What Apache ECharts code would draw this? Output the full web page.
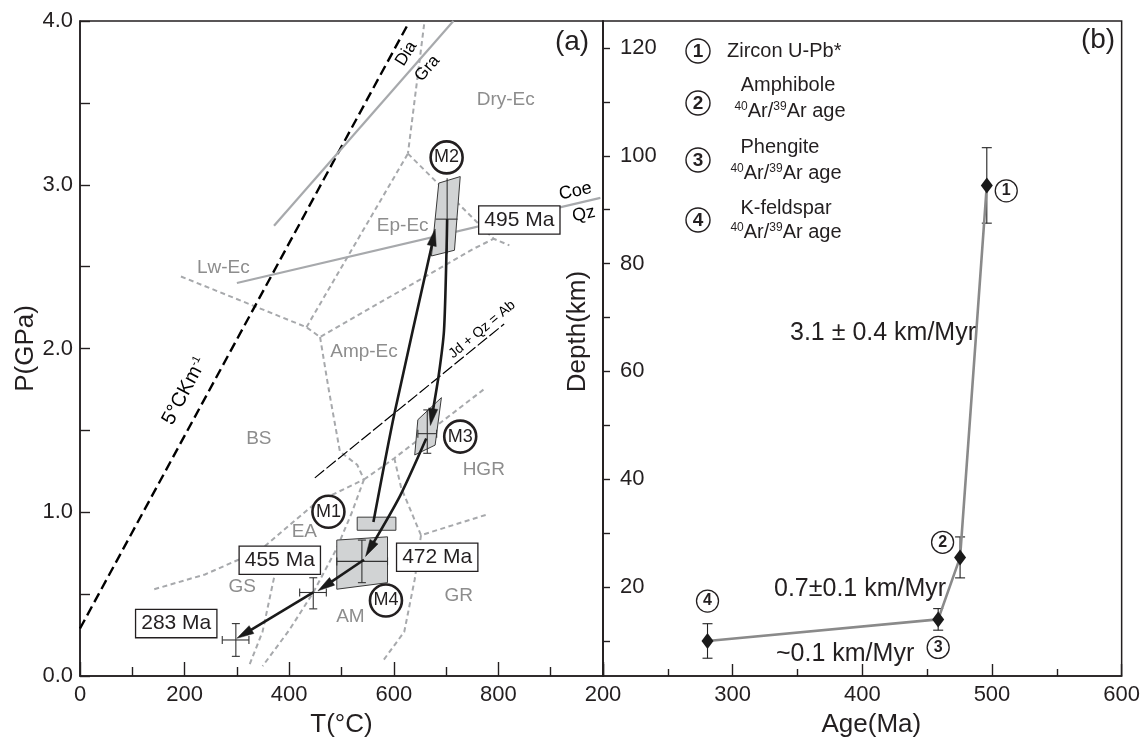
<!DOCTYPE html>
<html><head><meta charset="utf-8">
<script src="https://cdn.jsdelivr.net/npm/echarts@6/dist/echarts.min.js"></script>
<style>html,body{margin:0;padding:0;background:#fff}#c{width:1143px;height:743px}</style>
</head><body><div id="c"></div><script>
// ---------- Panel (b): Age vs Depth ----------
const ages = [280.6, 458.5, 475.4, 496];
const depths = [10, 14, 25.5, 94.5];
const depthErr = [3.2, 2, 3.8, 7];
const methodTags = ['4', '3', '2', '1'];
const tagAges = [280.6, 458.5, 461.9, 511];
const tagDepths = [17.4, 8.8, 28.3, 93.5];
const ageTicksB = [200, 300, 400, 500, 600];
const depthLabelsB = [20, 40, 60, 80, 100, 120];
const depthTicksB = [10, 20, 30, 40, 50, 60, 70, 80, 90, 100, 110, 120];
const legendNames = ['Zircon U-Pb*', 'Amphibole', 'Phengite', 'K-feldspar'];
const rateTexts = ['3.1 ± 0.4 km/Myr', '0.7±0.1 km/Myr', '~0.1 km/Myr'];

// ---------- Panel (a): P-T diagram ----------
const tLabelsA = [0, 200, 400, 600, 800];
const geotherm = [[0, 0.29], [627, 3.98]];
const graDia = [[371, 2.75], [714, 4.0]];
const coeQz = [[300, 2.40], [995, 2.92]];
const jdQzAb = [[449, 1.21], [811, 2.15]];
const facies = [
  [[658, 3.98], [627, 3.19]],
  [[627, 3.19], [791, 2.67], [821, 2.63]],
  [[433, 2.13], [627, 3.19]],
  [[193, 2.44], [433, 2.13], [459, 2.07], [753, 2.61], [791, 2.67]],
  [[459, 2.07], [475, 1.76], [497, 1.37], [530, 1.29], [543, 1.20]],
  [[142, 0.53], [239, 0.62], [303, 0.71], [349, 0.78], [400, 0.92], [452, 1.06], [543, 1.20]],
  [[543, 1.20], [601, 1.33], [776, 1.76]],
  [[601, 1.33], [614, 1.15], [652, 0.86], [782, 0.99]],
  [[652, 0.86], [640, 0.59], [620, 0.27], [581, 0.10]],
  [[543, 1.20], [520, 1.00], [491, 0.78], [446, 0.51], [400, 0.28], [349, 0.06]],
  [[371, 0.60], [349, 0.27], [323, 0.06]]
];
const boxes = [
  [[686, 3.01], [727, 3.05], [716, 2.60], [672, 2.565]],
  [[530, 0.89], [604, 0.89], [604, 0.97], [530, 0.97]],
  [[491, 0.83], [588, 0.85], [588, 0.57], [491, 0.53]],
  [[646, 1.565], [691, 1.70], [679, 1.41], [640, 1.35]]
];
const crossT = [702, 664, 539, 446, 298];
const crossP = [2.79, 1.48, 0.70, 0.51, 0.22];
const crossTRange = [[680, 722], [646, 682], [491, 588], [420, 471], [272, 323]];
const crossPRange = [[2.58, 3.04], [1.36, 1.625], [0.57, 0.83], [0.41, 0.60], [0.12, 0.32]];
const crossCaps = [false, true, true, true, true];
const ptArrows = [
  [[561, 0.94], [601, 1.60], [672, 2.62], [679, 2.73]],
  [[702, 2.79], [701, 2.62], [696, 2.11], [686, 1.84], [670, 1.53]],
  [[662, 1.45], [612, 1.10], [546, 0.73]],
  [[543, 0.71], [455, 0.52]],
  [[446, 0.51], [300, 0.23]]
];
const regionNames = ['Dry-Ec', 'Ep-Ec', 'Lw-Ec', 'Amp-Ec', 'BS', 'EA', 'GS', 'AM', 'GR', 'HGR'];
const regionT = [814, 617, 274, 543, 342, 429, 310, 517, 724, 772];
const regionP = [3.52, 2.75, 2.49, 1.98, 1.45, 0.88, 0.543, 0.359, 0.49, 1.258];
const ageBoxLabels = ['495 Ma', '455 Ma', '472 Ma', '283 Ma'];
const ageBoxT = [840, 382, 683, 184];
const ageBoxP = [2.785, 0.707, 0.725, 0.32];
const stageNames = ['M1', 'M2', 'M3', 'M4'];
const stageT = [475, 701, 727, 585];
const stageP = [1.003, 3.167, 1.462, 0.461];
const lineLabels = ['Dia', 'Gra', 'Coe', 'Qz', 'Jd + Qz = Ab', '5°CKm{s|-1}'];
const lineLabelT = [624, 664, 947, 963, 769, 200];
const lineLabelP = [3.80, 3.71, 2.96, 2.82, 2.116, 1.74];
const lineLabelRot = [58, 49, 12, 12, 40, 62];
const lineLabelSize = [17, 17, 18, 18, 14, 20];

// ---------- Styling ----------
const FONT = '"Liberation Sans", Arial, Helvetica, sans-serif';
const INK = '#231f20';
const GRAY = '#a7a9ac';
const GRAYTXT = '#8d8d8d';

const chart = echarts.init(document.getElementById('c'));

function axisCommon() {
  return {
    axisLine: {show: true, onZero: false, lineStyle: {color: INK, width: 1.5}},
    splitLine: {show: false}, minorSplitLine: {show: false}
  };
}

const series = [];
series.push({type: 'line', xAxisIndex: 0, yAxisIndex: 0, data: geotherm, symbol: 'none',
  lineStyle: {color: '#000', width: 2.4, type: [10, 5]}, z: 2, silent: true});
series.push({type: 'line', xAxisIndex: 0, yAxisIndex: 0, data: graDia, symbol: 'none',
  lineStyle: {color: GRAY, width: 2.2}, z: 2, silent: true});
series.push({type: 'line', xAxisIndex: 0, yAxisIndex: 0, data: coeQz, symbol: 'none',
  lineStyle: {color: GRAY, width: 2.2}, z: 2, silent: true});
series.push({type: 'line', xAxisIndex: 0, yAxisIndex: 0, data: jdQzAb, symbol: 'none',
  lineStyle: {color: '#000', width: 1.2, type: [12, 3]}, z: 2, silent: true});
facies.forEach(f => series.push({type: 'line', xAxisIndex: 0, yAxisIndex: 0, data: f, symbol: 'none',
  lineStyle: {color: GRAY, width: 2, type: [5, 3.5]}, z: 1, silent: true}));
// boxes
series.push({type: 'custom', xAxisIndex: 0, yAxisIndex: 0, z: 3, silent: true,
  data: boxes.map((b, i) => [b[0][0], b[0][1], i]),
  renderItem: (params, api) => {
    const b = boxes[params.dataIndex];
    return {type: 'polygon', shape: {points: b.map(p => api.coord(p))},
      style: {fill: '#d1d3d4', stroke: '#3a3a3a', lineWidth: 1}};
  }});
// error crosses
series.push({type: 'custom', xAxisIndex: 0, yAxisIndex: 0, z: 4, silent: true,
  data: crossT.map((t, i) => [t, crossP[i], i]),
  renderItem: (params, api) => {
    const i = params.dataIndex;
    const l = api.coord([crossTRange[i][0], crossP[i]]);
    const r = api.coord([crossTRange[i][1], crossP[i]]);
    const b = api.coord([crossT[i], crossPRange[i][0]]);
    const t = api.coord([crossT[i], crossPRange[i][1]]);
    const st = {stroke: '#333', lineWidth: 1.1};
    const ch = [
      {type: 'line', shape: {x1: l[0], y1: l[1], x2: r[0], y2: r[1]}, style: st},
      {type: 'line', shape: {x1: b[0], y1: b[1], x2: t[0], y2: t[1]}, style: st}
    ];
    if (crossCaps[i]) {
      const c = 4;
      ch.push({type: 'line', shape: {x1: l[0], y1: l[1] - c, x2: l[0], y2: l[1] + c}, style: st});
      ch.push({type: 'line', shape: {x1: r[0], y1: r[1] - c, x2: r[0], y2: r[1] + c}, style: st});
      ch.push({type: 'line', shape: {x1: b[0] - c, y1: b[1], x2: b[0] + c, y2: b[1]}, style: st});
      ch.push({type: 'line', shape: {x1: t[0] - c, y1: t[1], x2: t[0] + c, y2: t[1]}, style: st});
    }
    return {type: 'group', children: ch};
  }});
// P-T path arrows
series.push({type: 'custom', xAxisIndex: 0, yAxisIndex: 0, z: 5, silent: true,
  data: ptArrows.map((p, i) => [p[0][0], p[0][1], i]),
  renderItem: (params, api) => {
    const pts = ptArrows[params.dataIndex].map(p => api.coord(p));
    const n = pts.length;
    const tip = pts[n - 1], prev = pts[n - 2];
    const dx = tip[0] - prev[0], dy = tip[1] - prev[1];
    const len = Math.hypot(dx, dy) || 1;
    const ux = dx / len, uy = dy / len;
    const L = 17, W = 4.6;
    const base = [tip[0] - ux * L, tip[1] - uy * L];
    const left = [base[0] - uy * W, base[1] + ux * W];
    const right = [base[0] + uy * W, base[1] - ux * W];
    const linePts = pts.slice(0, n - 1).concat([[tip[0] - ux * L * 0.6, tip[1] - uy * L * 0.6]]);
    return {type: 'group', children: [
      {type: 'polyline', shape: {points: linePts, smooth: n > 2 ? 0.25 : 0}, style: {stroke: '#1a1a1a', lineWidth: 2.6, fill: null}},
      {type: 'polygon', shape: {points: [tip, left, right]}, style: {fill: '#1a1a1a', stroke: '#1a1a1a', lineWidth: 0.5}}
    ]};
  }});
// region labels
series.push({type: 'scatter', xAxisIndex: 0, yAxisIndex: 0, z: 6, symbolSize: 1, silent: true,
  itemStyle: {color: 'transparent', opacity: 1},
  data: regionNames.map((n, i) => ({value: [regionT[i], regionP[i]], name: n})),
  label: {show: true, position: 'inside', formatter: '{b}', color: GRAYTXT, fontSize: 19, fontFamily: FONT, opacity: 1}});
// age boxes
series.push({type: 'scatter', xAxisIndex: 0, yAxisIndex: 0, z: 7, symbolSize: 1, silent: true,
  itemStyle: {color: 'transparent', opacity: 1},
  data: ageBoxLabels.map((n, i) => ({value: [ageBoxT[i], ageBoxP[i]], name: n})),
  label: {show: true, position: 'inside', formatter: '{b}', color: INK, fontSize: 21, fontFamily: FONT, opacity: 1,
    backgroundColor: '#fff', borderColor: INK, borderWidth: 1.3, padding: [4, 5, 2, 5]}});
// stage circles
series.push({type: 'scatter', xAxisIndex: 0, yAxisIndex: 0, z: 7, symbol: 'circle', symbolSize: 32, silent: true,
  itemStyle: {color: '#fff', borderColor: INK, borderWidth: 2.6, opacity: 1},
  data: stageNames.map((n, i) => ({value: [stageT[i], stageP[i]], name: n})),
  label: {show: true, position: 'inside', formatter: '{b}', color: INK, fontSize: 18, fontFamily: FONT, opacity: 1}});
// line labels (rotated)
series.push({type: 'scatter', xAxisIndex: 0, yAxisIndex: 0, z: 7, symbolSize: 1, silent: true,
  itemStyle: {color: 'transparent', opacity: 1},
  data: lineLabels.map((n, i) => ({value: [lineLabelT[i], lineLabelP[i]], name: n,
    label: {rotate: lineLabelRot[i], fontSize: lineLabelSize[i]}})),
  label: {show: true, position: 'inside', formatter: '{b}', color: '#000', fontFamily: FONT, opacity: 1,
    rich: {s: {fontSize: 11, verticalAlign: 'top', lineHeight: 11, color: '#000', fontFamily: FONT}}}});

// Panel (b)
series.push({type: 'line', xAxisIndex: 1, yAxisIndex: 1, z: 3, silent: true,
  data: ages.map((a, i) => [a, depths[i]]),
  symbol: 'diamond', symbolSize: [12, 16], showSymbol: true,
  lineStyle: {color: '#8a8a8a', width: 2.6}, itemStyle: {color: '#1a1a1a', opacity: 1}});
series.push({type: 'custom', xAxisIndex: 1, yAxisIndex: 1, z: 2, silent: true,
  data: ages.map((a, i) => [a, depths[i], i]),
  renderItem: (params, api) => {
    const i = params.dataIndex;
    const lo = api.coord([ages[i], depths[i] - depthErr[i]]);
    const hi = api.coord([ages[i], depths[i] + depthErr[i]]);
    const st = {stroke: '#222', lineWidth: 1.1};
    const c = 5;
    return {type: 'group', children: [
      {type: 'line', shape: {x1: lo[0], y1: lo[1], x2: hi[0], y2: hi[1]}, style: st},
      {type: 'line', shape: {x1: lo[0] - c, y1: lo[1], x2: lo[0] + c, y2: lo[1]}, style: st},
      {type: 'line', shape: {x1: hi[0] - c, y1: hi[1], x2: hi[0] + c, y2: hi[1]}, style: st}
    ]};
  }});
series.push({type: 'scatter', xAxisIndex: 1, yAxisIndex: 1, z: 6, symbol: 'circle', symbolSize: 22, silent: true,
  itemStyle: {color: '#fff', borderColor: INK, borderWidth: 1.3, opacity: 1},
  data: methodTags.map((n, i) => ({value: [tagAges[i], tagDepths[i]], name: n})),
  label: {show: true, position: 'inside', formatter: '{b}', color: INK, fontSize: 16, fontWeight: 'bold', fontFamily: FONT, opacity: 1}});

// legend + annotation graphics
const graphic = [];
const legY = [51, 103, 160, 220];
legY.forEach((y, i) => {
  graphic.push({type: 'circle', shape: {cx: 698, cy: y, r: 12}, style: {fill: '#fff', stroke: INK, lineWidth: 1.4}, z: 10});
  graphic.push({type: 'text', x: 698, y: y + 1, z: 11, style: {text: String(i + 1), fontFamily: FONT, fontSize: 19, fontWeight: 'bold', fill: INK, align: 'center', verticalAlign: 'middle'}});
});
const supRich = {s: {fontSize: 12, lineHeight: 12, verticalAlign: 'top', fontFamily: FONT, fill: INK}};
graphic.push({type: 'text', x: 727, y: 51, z: 11, style: {text: legendNames[0], fontFamily: FONT, fontSize: 20, fill: INK, align: 'left', verticalAlign: 'middle'}});
[[788, 85, 790, 111], [780, 147, 786, 173], [786, 208, 786, 232]].forEach((p, k) => {
  graphic.push({type: 'text', x: p[0], y: p[1], z: 11, style: {text: legendNames[k + 1], fontFamily: FONT, fontSize: 20, fill: INK, align: 'center', verticalAlign: 'middle'}});
  graphic.push({type: 'text', x: p[2], y: p[3], z: 11, style: {text: '{s|40}Ar/{s|39}Ar age', rich: supRich, fontFamily: FONT, fontSize: 20, fill: INK, align: 'center', verticalAlign: 'middle'}});
});
graphic.push({type: 'text', x: 976, y: 333, z: 11, style: {text: rateTexts[0], fontFamily: FONT, fontSize: 25, fill: INK, align: 'right', verticalAlign: 'middle'}});
graphic.push({type: 'text', x: 774, y: 589, z: 11, style: {text: rateTexts[1], fontFamily: FONT, fontSize: 25, fill: INK, align: 'left', verticalAlign: 'middle'}});
graphic.push({type: 'text', x: 776, y: 654, z: 11, style: {text: rateTexts[2], fontFamily: FONT, fontSize: 25, fill: INK, align: 'left', verticalAlign: 'middle'}});
graphic.push({type: 'text', x: 572, y: 42, z: 11, style: {text: '(a)', fontFamily: FONT, fontSize: 28, fill: INK, align: 'center', verticalAlign: 'middle'}});
graphic.push({type: 'text', x: 1098, y: 40, z: 11, style: {text: '(b)', fontFamily: FONT, fontSize: 28, fill: INK, align: 'center', verticalAlign: 'middle'}});

const option = {
  animation: false,
  backgroundColor: '#fff',
  textStyle: {fontFamily: FONT},
  grid: [
    {left: 80, top: 21, width: 523, height: 662, show: true, borderColor: INK, borderWidth: 1.5, backgroundColor: 'transparent'},
    {left: 603, top: 21, width: 525, height: 662, show: true, borderColor: INK, borderWidth: 1.5, backgroundColor: 'transparent'}
  ],
  xAxis: [
    Object.assign(axisCommon(), {
      gridIndex: 0, type: 'value', min: 0, max: 1000, interval: 200,
      axisTick: {show: true, inside: true, length: 14, lineStyle: {color: INK, width: 1.4}},
      minorTick: {show: true, splitNumber: 2, length: 9, lineStyle: {color: INK, width: 1.4}},
      axisLabel: {customValues: tLabelsA, formatter: v => (v === 1000 ? '' : String(v)), fontSize: 22, color: INK, margin: 8, fontFamily: FONT},
      name: 'T(°C)', nameLocation: 'middle', nameGap: 36, nameTextStyle: {fontSize: 26, color: INK, fontFamily: FONT}
    }),
    Object.assign(axisCommon(), {
      gridIndex: 1, type: 'value', min: 200, max: 600, interval: 100,
      axisTick: {show: true, inside: true, length: 12, lineStyle: {color: INK, width: 1.4}},
      minorTick: {show: true, splitNumber: 2, length: 7, lineStyle: {color: INK, width: 1.4}},
      axisLabel: {fontSize: 22, color: INK, margin: 8, fontFamily: FONT},
      name: 'Age(Ma)', nameLocation: 'middle', nameGap: 36, nameTextStyle: {fontSize: 26, color: INK, fontFamily: FONT, padding: [0, 0, 0, 18]}
    })
  ],
  yAxis: [
    Object.assign(axisCommon(), {
      gridIndex: 0, type: 'value', min: 0, max: 4, interval: 1,
      axisTick: {show: true, inside: true, length: 10, lineStyle: {color: INK, width: 1.4}},
      minorTick: {show: true, splitNumber: 2, length: 10, lineStyle: {color: INK, width: 1.4}},
      axisLabel: {formatter: v => v.toFixed(1), fontSize: 22, color: INK, margin: 7, fontFamily: FONT},
      name: 'P(GPa)', nameLocation: 'middle', nameGap: 38, nameTextStyle: {fontSize: 26, color: INK, fontFamily: FONT}
    }),
    Object.assign(axisCommon(), {
      gridIndex: 1, type: 'value', min: 3.5, max: 125,
      axisTick: {show: true, inside: true, length: 7, customValues: depthTicksB, lineStyle: {color: INK, width: 1.4}},
      axisLabel: {inside: true, customValues: depthLabelsB, fontSize: 22, color: INK, margin: 17, fontFamily: FONT},
      name: 'Depth(km)', nameLocation: 'middle', nameGap: 12, nameTextStyle: {fontSize: 26, color: INK, fontFamily: FONT, padding: [0, 0, 0, 34]}
    })
  ],
  series: series,
  graphic: graphic
};
chart.setOption(option);
</script></body></html>
